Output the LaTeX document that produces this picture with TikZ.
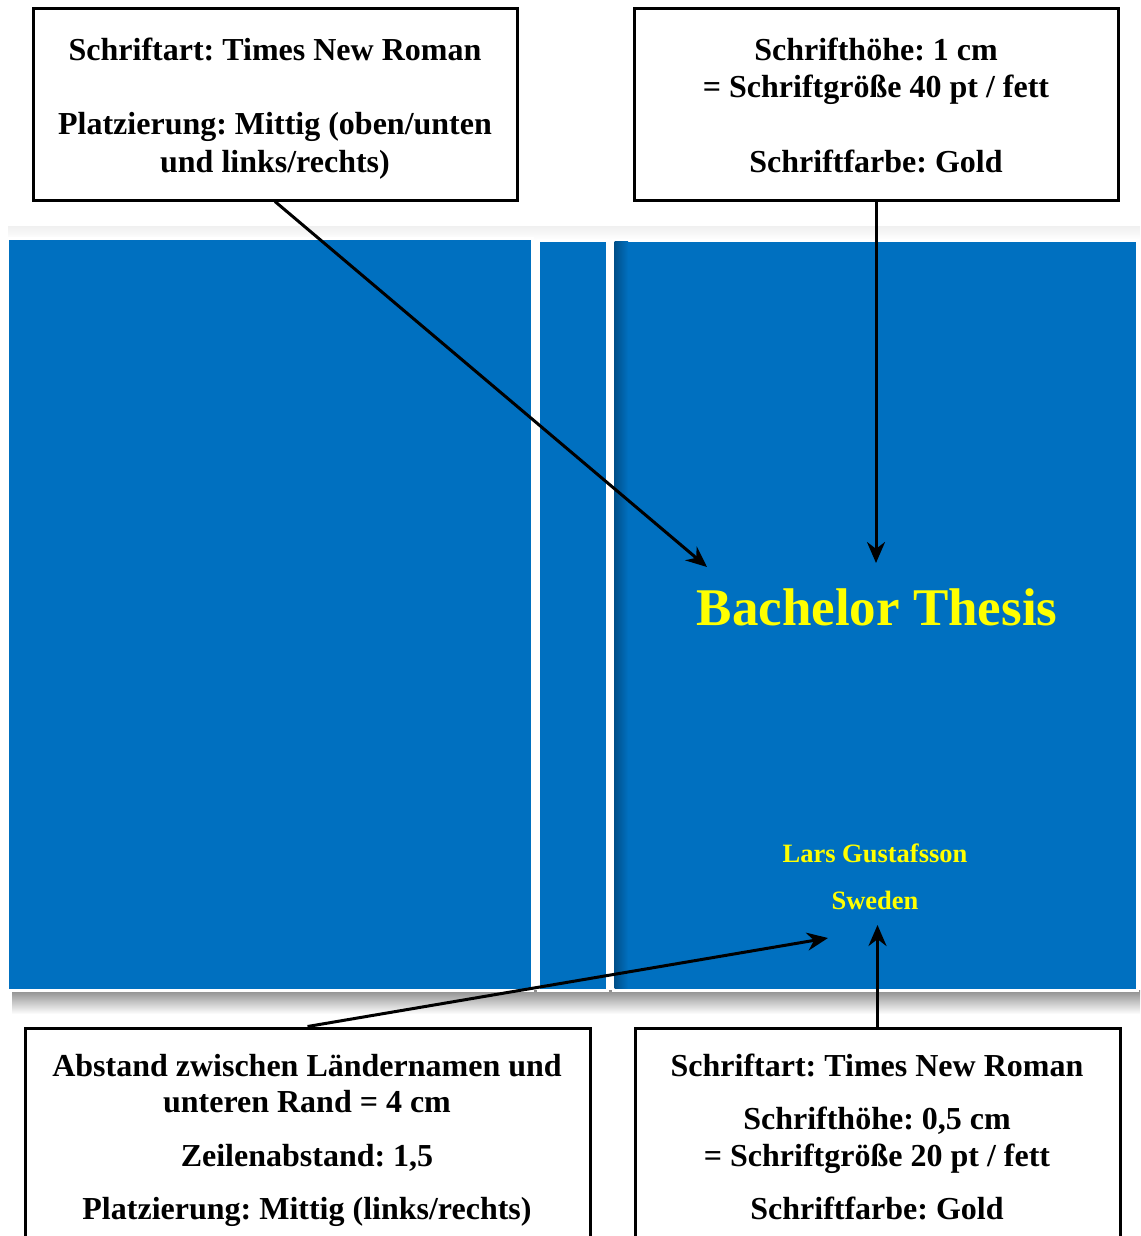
\documentclass[tikz,border=0pt]{standalone}
\usepackage{fontspec}
\setmainfont{Liberation Serif}
\frenchspacing
\usetikzlibrary{arrows.meta}
\definecolor{pblue}{HTML}{0070C0}
\definecolor{pdark}{HTML}{00508A}
\definecolor{gold}{HTML}{FFFF00}
\tikzset{
  panel/.style={fill=pblue, draw=white, line width=3pt, inner sep=0pt},
  infobox/.style={draw=black, line width=3pt, fill=white, inner sep=0pt},
  txt/.style={font=\fontsize{32}{38}\selectfont\bfseries, anchor=base, inner sep=0pt},
  arr/.style={line width=3pt, -{Stealth[length=21pt,width=18pt]}},
}
\begin{document}
\begin{tikzpicture}[x=1pt,y=-1pt]
\useasboundingbox (0,0) rectangle (1140,1236);
\clip (0,0) rectangle (1140,1236);
% shadows
\shade[top color=black!45, bottom color=white] (12,990) rectangle (1140,1014);
\shade[top color=black!6, bottom color=white] (8,226) rectangle (1140,240);
% panels
\node[panel, minimum width=525pt, minimum height=752pt] (back) at (269.5,614) {};
\node[panel, minimum width=69pt, minimum height=750pt] (spine) at (572.5,615) {};
\node[panel, minimum width=524pt, minimum height=750pt] (front) at (875,615) {};
\shade[left color=pdark, right color=pblue] (614.5,241.5) rectangle (628,988.5);
% cover texts
\node[txt, text=gold, font=\fontsize{53}{60}\selectfont\bfseries] (title) at (877,625) {Bachelor Thesis};
\node[txt, text=gold, font=\fontsize{26.5}{32}\selectfont\bfseries] (author) at (875,862) {Lars Gustafsson};
\node[txt, text=gold, font=\fontsize{26.5}{32}\selectfont\bfseries] (country) at (875,909) {Sweden};
% info boxes
\node[infobox, minimum width=484pt, minimum height=191pt] (tl) at (275,104.5) {};
\node[infobox, minimum width=484pt, minimum height=191pt] (tr) at (876,104.5) {};
\node[infobox, minimum width=565pt, minimum height=260pt] (bl) at (307.5,1158) {};
\node[infobox, minimum width=485pt, minimum height=260pt] (br) at (877.5,1158) {};
% box texts
\node[txt] (tl1) at (275,61) {Schriftart: Times New Roman};
\node[txt] (tl2) at (275,135) {Platzierung: Mittig (oben/unten};
\node[txt] (tl3) at (275,172) {und links/rechts)};
\node[txt] (tr1) at (876,61) {Schrifthöhe: 1 cm};
\node[txt] (tr2) at (876,98) {= Schriftgröße 40 pt / fett};
\node[txt] (tr3) at (876,172) {Schriftfarbe: Gold};
\node[txt] (bl1) at (307,1076) {Abstand zwischen Ländernamen und};
\node[txt] (bl2) at (307,1112) {unteren Rand = 4 cm};
\node[txt] (bl3) at (307,1166) {Zeilenabstand: 1,5};
\node[txt] (bl4) at (307,1219) {Platzierung: Mittig (links/rechts)};
\node[txt] (br1) at (877,1076) {Schriftart: Times New Roman};
\node[txt] (br2) at (877,1129) {Schrifthöhe: 0,5 cm};
\node[txt] (br3) at (877,1166) {= Schriftgröße 20 pt / fett};
\node[txt] (br4) at (877,1219) {Schriftfarbe: Gold};
% arrow targets
\coordinate (t1) at (707,567);
\coordinate (t2) at (876,563);
\coordinate (t3) at (828,938);
\coordinate (t4) at (877.5,925);
% arrows
\draw[arr] (tl.south) -- (t1);
\draw[arr] (tr.south) -- (t2);
\draw[arr] (bl.north) -- (t3);
\draw[arr] (br.north) -- (t4);
\end{tikzpicture}
\end{document}
